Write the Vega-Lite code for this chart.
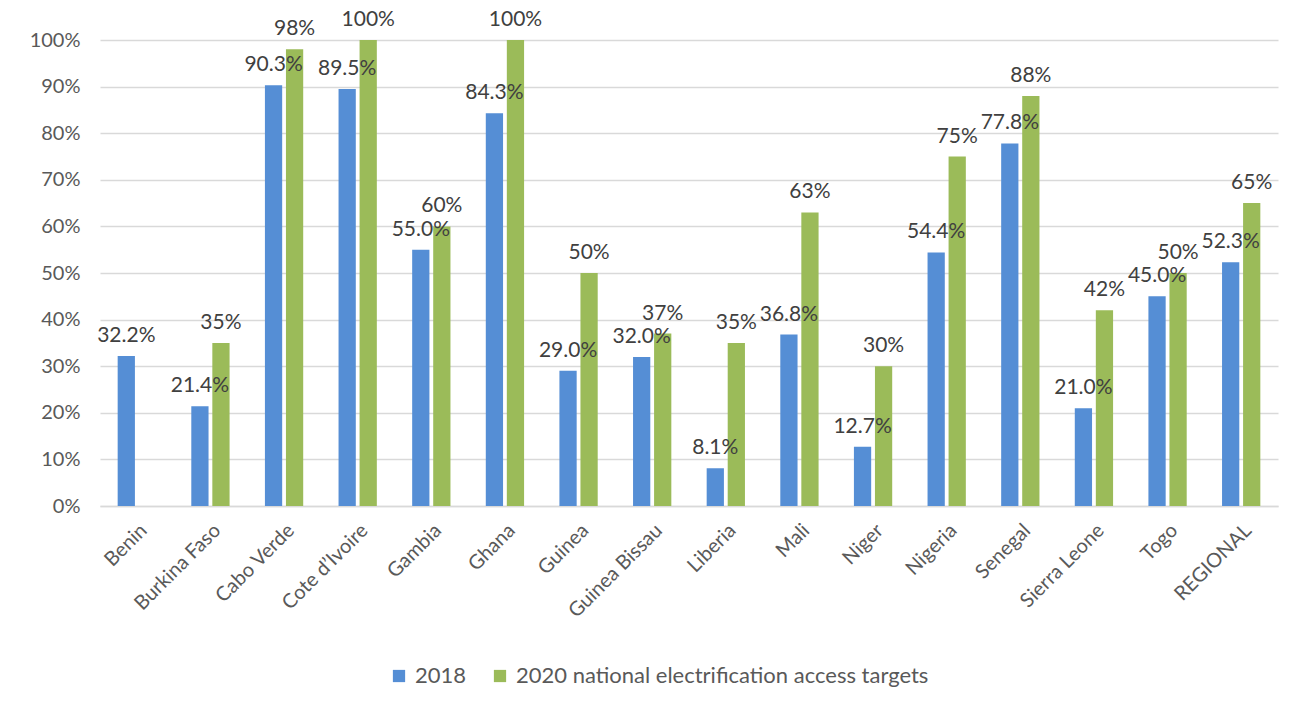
{
  "$schema": "https://vega.github.io/schema/vega-lite/v6.json",
  "width": 1178,
  "height": 466,
  "autosize": {"type": "none"},
  "padding": {"left": 100, "top": 40, "right": 16, "bottom": 203},
  "background": "white",
  "config": {
    "view": {"stroke": null},
    "font": "Lato",
    "axis": {"labelFont": "Lato", "labelColor": "#595959", "labelFontSize": 20},
    "legend": {"labelFont": "Lato", "labelColor": "#595959", "labelFontSize": 22}
  },
  "data": {
    "values": [
      {"country": "Benin", "series": "2018", "value": 0.322},
      {"country": "Burkina Faso", "series": "2018", "value": 0.214},
      {"country": "Burkina Faso", "series": "2020 national electrification access targets", "value": 0.35},
      {"country": "Cabo Verde", "series": "2018", "value": 0.903},
      {"country": "Cabo Verde", "series": "2020 national electrification access targets", "value": 0.98},
      {"country": "Cote d’Ivoire", "series": "2018", "value": 0.895},
      {"country": "Cote d’Ivoire", "series": "2020 national electrification access targets", "value": 1.0},
      {"country": "Gambia", "series": "2018", "value": 0.55},
      {"country": "Gambia", "series": "2020 national electrification access targets", "value": 0.6},
      {"country": "Ghana", "series": "2018", "value": 0.843},
      {"country": "Ghana", "series": "2020 national electrification access targets", "value": 1.0},
      {"country": "Guinea", "series": "2018", "value": 0.29},
      {"country": "Guinea", "series": "2020 national electrification access targets", "value": 0.5},
      {"country": "Guinea Bissau", "series": "2018", "value": 0.32},
      {"country": "Guinea Bissau", "series": "2020 national electrification access targets", "value": 0.37},
      {"country": "Liberia", "series": "2018", "value": 0.081},
      {"country": "Liberia", "series": "2020 national electrification access targets", "value": 0.35},
      {"country": "Mali", "series": "2018", "value": 0.368},
      {"country": "Mali", "series": "2020 national electrification access targets", "value": 0.63},
      {"country": "Niger", "series": "2018", "value": 0.127},
      {"country": "Niger", "series": "2020 national electrification access targets", "value": 0.3},
      {"country": "Nigeria", "series": "2018", "value": 0.544},
      {"country": "Nigeria", "series": "2020 national electrification access targets", "value": 0.75},
      {"country": "Senegal", "series": "2018", "value": 0.778},
      {"country": "Senegal", "series": "2020 national electrification access targets", "value": 0.88},
      {"country": "Sierra Leone", "series": "2018", "value": 0.21},
      {"country": "Sierra Leone", "series": "2020 national electrification access targets", "value": 0.42},
      {"country": "Togo", "series": "2018", "value": 0.45},
      {"country": "Togo", "series": "2020 national electrification access targets", "value": 0.5},
      {"country": "REGIONAL", "series": "2018", "value": 0.523},
      {"country": "REGIONAL", "series": "2020 national electrification access targets", "value": 0.65}
    ]
  },
  "encoding": {
    "x": {
      "field": "country", "type": "nominal", "sort": null,
      "scale": {"paddingInner": 0.48, "paddingOuter": 0.24},
      "axis": {"title": null, "labelAngle": -45, "ticks": false, "domainColor": "#d9d9d9", "domainWidth": 1.5, "labelPadding": 14, "labelOverlap": false, "labelLimit": 0}
    },
    "xOffset": {"field": "series", "type": "nominal", "scale": {"paddingInner": 0.18}},
    "y": {
      "field": "value", "type": "quantitative",
      "scale": {"domain": [0, 1]},
      "axis": {"title": null, "format": ".0%", "values": [0,0.1,0.2,0.3,0.4,0.5,0.6,0.7,0.8,0.9,1], "labelOverlap": false, "domain": false, "ticks": false, "labelPadding": 20, "gridColor": "#d9d9d9", "gridWidth": 1.5}
    }
  },
  "layer": [
    {
      "mark": {"type": "bar"},
      "encoding": {
        "color": {
          "field": "series", "type": "nominal",
          "scale": {"domain": ["2018", "2020 national electrification access targets"], "range": ["#558ed5", "#9bbb59"]},
          "legend": {"title": null, "orient": "none", "direction": "horizontal", "legendX": 288, "legendY": 625, "symbolType": "square", "symbolSize": 150, "columnPadding": 22, "labelOffset": 5, "symbolStrokeWidth": 0, "labelLimit": 0}
        }
      }
    },
    {
      "transform": [{"filter": "datum.series === '2018'"}],
      "mark": {"type": "text", "baseline": "bottom", "dy": -10, "fontSize": 21, "color": "#404040", "font": "Lato"},
      "encoding": {"text": {"field": "value", "type": "quantitative", "format": ".1%"}}
    },
    {
      "transform": [{"filter": "datum.series !== '2018'"}],
      "mark": {"type": "text", "baseline": "bottom", "dy": -10, "fontSize": 21, "color": "#404040", "font": "Lato"},
      "encoding": {"text": {"field": "value", "type": "quantitative", "format": ".0%"}}
    }
  ]
}
